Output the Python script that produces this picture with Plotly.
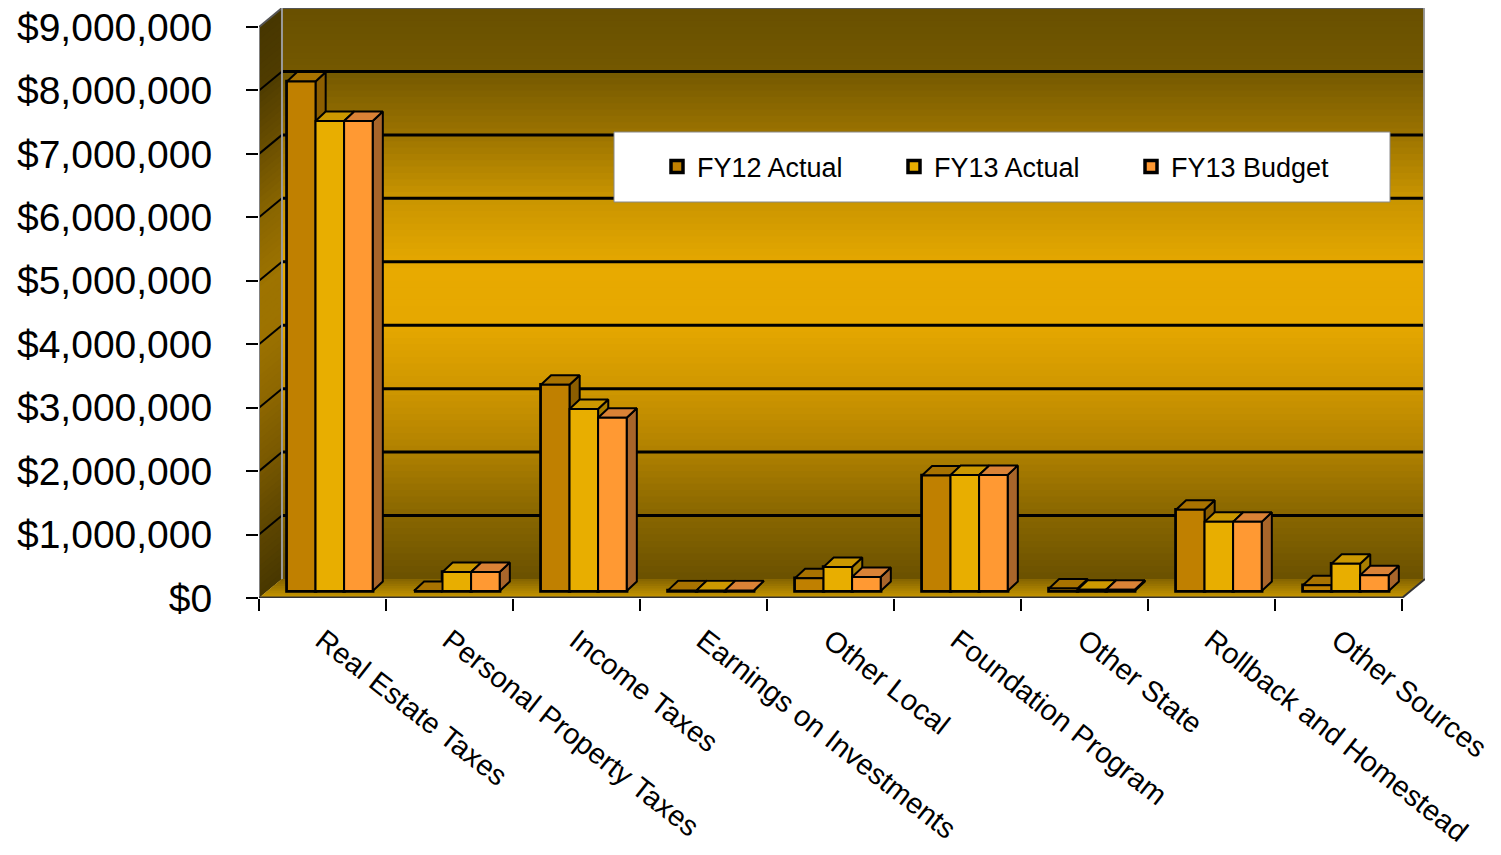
import numpy as np
import plotly.graph_objects as go

# ---------------- data ----------------
categories = ["Real Estate Taxes", "Personal Property Taxes", "Income Taxes",
              "Earnings on Investments", "Other Local", "Foundation Program",
              "Other State", "Rollback and Homestead", "Other Sources"]
series_names = ["FY12 Actual", "FY13 Actual", "FY13 Budget"]
fy12_actual = [8030000, 0, 3250000, 10000, 200000, 1820000, 40000, 1280000, 90000]
fy13_actual = [7410000, 300000, 2870000, 10000, 380000, 1830000, 20000, 1090000, 430000]
fy13_budget = [7410000, 300000, 2730000, 10000, 220000, 1830000, 20000, 1090000, 250000]
y_tick_values = [0, 1000000, 2000000, 3000000, 4000000, 5000000, 6000000, 7000000, 8000000, 9000000]

series_values = [fy12_actual, fy13_actual, fy13_budget]

# ---------------- style ----------------
FONT = "Liberation Sans, Arial, sans-serif"
front_cols = ["#C08000", "#E8AE00", "#FF9933"]
top_cols = ["#A87200", "#CC9800", "#DA8236"]
side_cols = ["#8C5E00", "#A87E00", "#A8652A"]

W, H = 1501, 855
ML, MR, MT, MB = 259, 76, 8, 257
XMAX = 9.181
YMAX = 9.3e6
n = len(categories)

# 3D geometry (in axis units)
WALL_DX = 0.181          # back wall offset in x
WALL_DY = 0.3e6          # back wall offset in y
BAR_OFF = 0.22           # first bar offset inside category
BAR_W = 0.225            # bar width
BAR_BASE = 0.11e6        # bar front base lift (depth)
BAR_DX = 0.08            # bar depth in x
BAR_DY = 0.15e6          # bar depth in y

fig = go.Figure()

# Legend carriers (front faces as real bars)
for s, name in enumerate(series_names):
    xs = [i + BAR_OFF + s * BAR_W + BAR_W / 2 for i in range(n)]
    fig.add_trace(go.Bar(
        x=xs, y=series_values[s], base=[BAR_BASE] * n, width=BAR_W,
        name=name, marker=dict(color=front_cols[s], line=dict(color="black", width=3.5)),
        showlegend=True, hoverinfo="skip"))

# 3D faces drawn as polygons in data coordinates
def poly(xs, ys, color):
    fig.add_trace(go.Scatter(
        x=xs + [xs[0]], y=ys + [ys[0]], mode="lines", fill="toself",
        fillcolor=color, line=dict(color="black", width=2),
        showlegend=False, hoverinfo="skip"))

for i in range(n):
    for s in range(3):
        v = series_values[s][i]
        x0 = i + BAR_OFF + s * BAR_W
        x1 = x0 + BAR_W
        yb = BAR_BASE
        yt = BAR_BASE + v
        poly([x1, x1 + BAR_DX, x1 + BAR_DX, x1], [yb, yb + BAR_DY, yt + BAR_DY, yt], side_cols[s])
        poly([x0, x1, x1 + BAR_DX, x0 + BAR_DX], [yt, yt, yt + BAR_DY, yt + BAR_DY], top_cols[s])
        if v > 0:
            poly([x0, x1, x1, x0], [yb, yb, yt, yt], front_cols[s])

# ---------------- walls ----------------
shapes = []
stops_frac = [0.0, 0.11, 0.22, 0.33, 0.46, 0.55, 0.67, 0.77, 0.87, 1.0]   # from top of wall
stops_rgb = np.array([
    [104, 80, 0], [116, 88, 0], [155, 115, 0], [200, 148, 0], [232, 170, 0],
    [230, 168, 0], [206, 150, 0], [178, 130, 0], [142, 106, 0], [106, 81, 0]])

def wall_color(frac, k=1.0):
    c = [np.interp(frac, stops_frac, stops_rgb[:, j]) * k for j in range(3)]
    return "rgb(%d,%d,%d)" % tuple(int(round(x)) for x in c)

NB = 90
wall_bottom = WALL_DY
wall_top = YMAX
step = (wall_top - wall_bottom) / NB
for b in range(NB):
    ya = wall_top - step * b
    yb2 = max(wall_bottom, ya - step * 1.8)   # overlap to avoid seams
    col = wall_color((b + 0.5) / NB)
    shapes.append(dict(type="rect", xref="x", yref="y", x0=WALL_DX, x1=XMAX, y0=yb2, y1=ya,
                       fillcolor=col, line=dict(width=0), layer="below"))
    path = "M0,%f L%f,%f L%f,%f L0,%f Z" % (yb2 - WALL_DY, WALL_DX, yb2, WALL_DX, ya, ya - WALL_DY)
    shapes.append(dict(type="path", xref="x", yref="y", path=path,
                       fillcolor=wall_color((b + 0.5) / NB, 0.68), line=dict(width=0), layer="below"))

# floor bands
NF = 8
for b in range(NF):
    f0 = b / NF
    f1 = min(1.0, (b + 1.8) / NF)
    c0 = np.array([196, 148, 0]) * (1 - f0 * 0.35)
    col = "rgb(%d,%d,%d)" % tuple(int(x) for x in c0)
    path = "M%f,%f L%f,%f L%f,%f L%f,%f Z" % (
        WALL_DX * f0, WALL_DY * f0, 9 + WALL_DX * f0, WALL_DY * f0,
        9 + WALL_DX * f1, WALL_DY * f1, WALL_DX * f1, WALL_DY * f1)
    shapes.append(dict(type="path", xref="x", yref="y", path=path, fillcolor=col,
                       line=dict(width=0), layer="below"))

# back wall gridlines
for k in range(1, 9):
    yv = y_tick_values[k] + WALL_DY
    shapes.append(dict(type="line", xref="x", yref="y", x0=WALL_DX, x1=XMAX, y0=yv, y1=yv,
                       line=dict(color="black", width=3), layer="below"))
    shapes.append(dict(type="line", xref="x", yref="y", x0=0, x1=WALL_DX,
                       y0=y_tick_values[k], y1=yv, line=dict(color="black", width=2), layer="below"))

# wall outlines
shapes.append(dict(type="line", xref="x", yref="y", x0=WALL_DX, x1=XMAX, y0=YMAX, y1=YMAX,
                   line=dict(color="#555555", width=2), layer="below"))
shapes.append(dict(type="line", xref="x", yref="y", x0=0, x1=WALL_DX, y0=YMAX - WALL_DY, y1=YMAX,
                   line=dict(color="#555555", width=2), layer="below"))
shapes.append(dict(type="line", xref="x", yref="y", x0=0, x1=0, y0=0, y1=YMAX - WALL_DY,
                   line=dict(color="#808080", width=2), layer="below"))
shapes.append(dict(type="line", xref="x", yref="y", x0=WALL_DX, x1=WALL_DX, y0=WALL_DY, y1=YMAX,
                   line=dict(color="#9a9a9a", width=2), layer="below"))
shapes.append(dict(type="line", xref="x", yref="y", x0=XMAX - 0.003, x1=XMAX - 0.003, y0=WALL_DY, y1=YMAX,
                   line=dict(color="#9a9a9a", width=3), layer="below"))
shapes.append(dict(type="line", xref="x", yref="y", x0=0, x1=9, y0=0, y1=0,
                   line=dict(color="#333333", width=3), layer="below"))
shapes.append(dict(type="line", xref="x", yref="y", x0=9, x1=XMAX, y0=0, y1=WALL_DY,
                   line=dict(color="#333333", width=2), layer="below"))

# legend box
def px_to_paper_x(px):
    return (px - ML) / (W - ML - MR)

def py_to_paper_y(py):
    return (H - MB - py) / (H - MB - MT)

shapes.append(dict(type="rect", xref="paper", yref="paper",
                   x0=px_to_paper_x(614), x1=px_to_paper_x(1390),
                   y0=py_to_paper_y(202), y1=py_to_paper_y(132),
                   fillcolor="white", line=dict(color="#888888", width=1), layer="above"))

fig.update_layout(
    width=W, height=H,
    margin=dict(l=ML, r=MR, t=MT, b=MB, pad=0, autoexpand=False),
    paper_bgcolor="white", plot_bgcolor="white",
    barmode="overlay",
    shapes=shapes,
    font=dict(family=FONT, color="black"),
    showlegend=True,
    legend=dict(orientation="h", x=px_to_paper_x(657), y=py_to_paper_y(167),
                xanchor="left", yanchor="middle", bgcolor="rgba(0,0,0,0)",
                font=dict(size=27, family=FONT, color="black"),
                entrywidth=192, entrywidthmode="pixels", traceorder="normal"),
    xaxis=dict(range=[0, XMAX], tickvals=[i + 0.5 for i in range(n)], ticktext=categories,
               tickangle=38, tickfont=dict(size=29, family=FONT), showgrid=False, zeroline=False,
               showline=False, ticks="outside", ticklen=13, tickcolor="rgba(0,0,0,0)",
               automargin=False, ticklabeloverflow="allow",
               minor=dict(tickmode="linear", tick0=0, dtick=1, ticks="outside", ticklen=12,
                          tickcolor="black", tickwidth=1.5, showgrid=False),
               fixedrange=True),
    yaxis=dict(range=[0, YMAX], tickvals=y_tick_values, tickformat="$,.0f",
               tickfont=dict(size=39, family=FONT), showgrid=False, zeroline=False,
               showline=False, ticks="outside", ticklen=12, tickcolor="black", tickwidth=1.5,
               ticklabelstandoff=26, automargin=False, fixedrange=True),
)

fig.write_html("out.html")
